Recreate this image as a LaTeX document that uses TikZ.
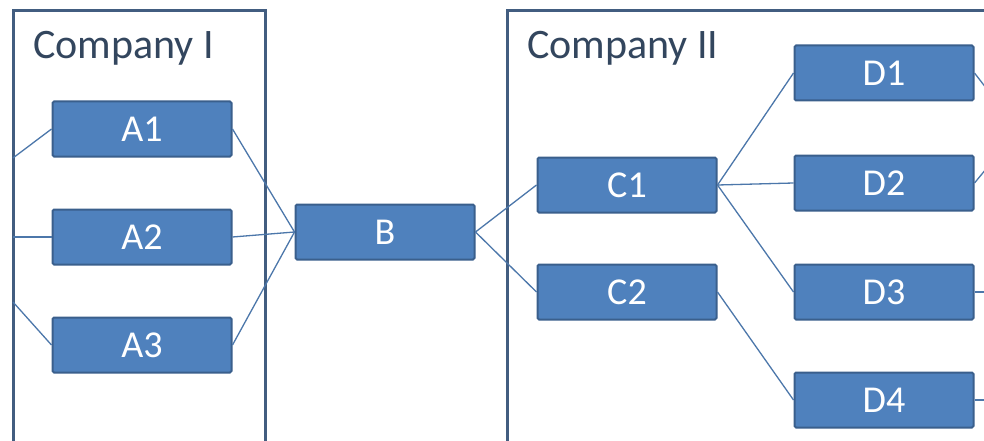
\documentclass[tikz,border=0pt]{standalone}
\usepackage{fontspec}
\setmainfont{Carlito}
\usetikzlibrary{positioning}

\definecolor{boxblue}{HTML}{4F81BD}
\definecolor{boxedge}{HTML}{3A5F8C}
\definecolor{frameblue}{HTML}{425D80}
\definecolor{linkblue}{HTML}{4C77AA}
\definecolor{labelgrey}{HTML}{33465E}

\begin{document}
\begin{tikzpicture}
            [x=1pt, y=-1pt, unit/.style={rectangle, draw=boxedge, fill=boxblue, line width=2pt, rounded corners=1.5pt, minimum width=179pt, minimum height=55pt, text=white, font=\fontsize{38}{44}\selectfont}, company/.style={draw=frameblue, line width=3pt}, title/.style={anchor=base west, text=labelgrey, font=\fontsize{42}{50}\selectfont, inner sep=0pt}, link/.style={draw=linkblue, line width=1.3pt}]
            \clip (0,0) rectangle (984,441);
            \fill[white] (0,0) rectangle (984,441);
            \begin{scope}
            % the two companies
            \draw[company] (13,11) rectangle (265,470);
            \draw[company] (507,11) rectangle (1020,470);
            \node[title] (t1) at (33,59) {Company I};
            \node[title] (t2) at (527,59) {Company II};
            % units
            \node[unit] (a1) at (142,129) {A1};
            \node[unit] (a2) at (142,237) {A2};
            \node[unit] (a3) at (142,345) {A3};
            \node[unit] (b) at (385,232) {B};
            \node[unit] (c1) at (627,185) {C1};
            \node[unit] (c2) at (627,292) {C2};
            \node[unit] (d1) at (884,73) {D1};
            \node[unit] (d2) at (884,183) {D2};
            \node[unit] (d3) at (884,292) {D3};
            \node[unit] (d4) at (884,400) {D4};
            % loose ends
            \coordinate (l1) at (13,158);
            \coordinate (l2) at (13,237);
            \coordinate (l3) at (13,302);
            \coordinate (r1) at (1010,119);
            \coordinate (r2) at (1010,140);
            \coordinate (r3) at (1010,292);
            \coordinate (r4) at (1010,400);
            % links
            \draw[link] (l1) -- (a1.west);
            \draw[link] (l2) -- (a2.west);
            \draw[link] (l3) -- (a3.west);
            \draw[link] (a1.east) -- (b.west);
            \draw[link] (a2.east) -- (b.west);
            \draw[link] (a3.east) -- (b.west);
            \draw[link] (b.east) -- (c1.west);
            \draw[link] (b.east) -- (c2.west);
            \draw[link] (c1.east) -- (d1.west);
            \draw[link] (c1.east) -- (d2.west);
            \draw[link] (c1.east) -- (d3.west);
            \draw[link] (c2.east) -- (d4.west);
            \draw[link] (d1.east) -- (r1);
            \draw[link] (d2.east) -- (r2);
            \draw[link] (d3.east) -- (r3);
            \draw[link] (d4.east) -- (r4);
            \end{scope}
            \end{tikzpicture}
\end{document}
